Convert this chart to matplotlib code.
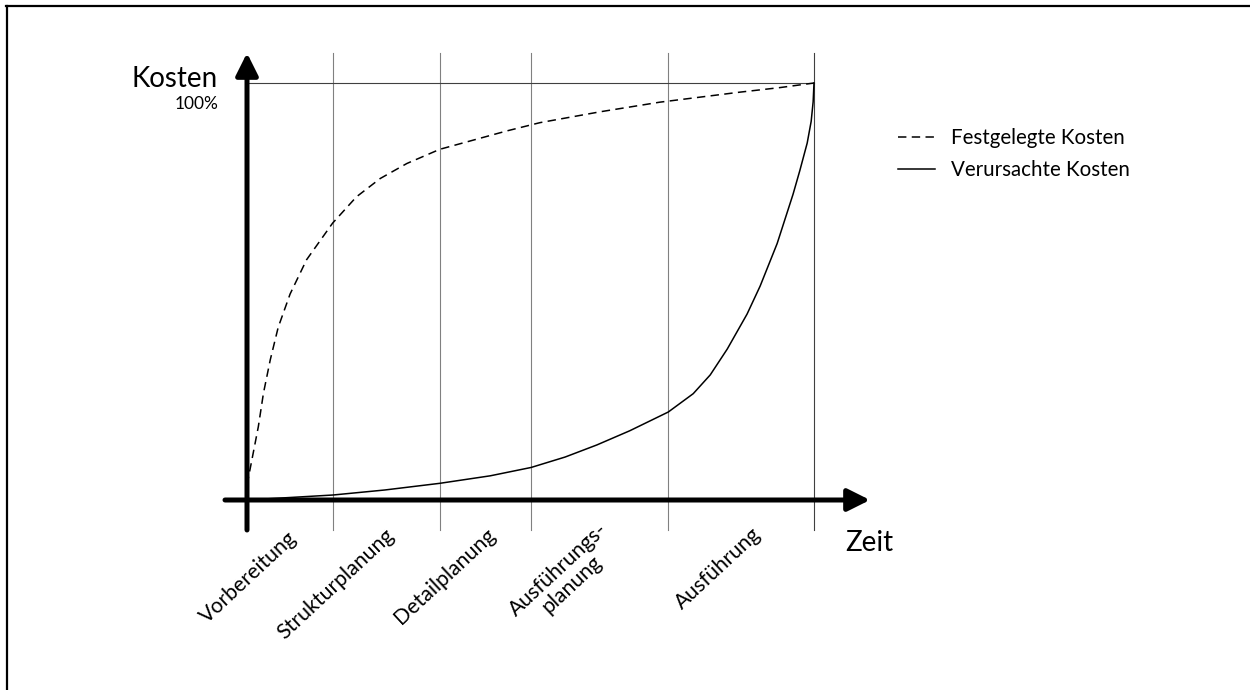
"""Kostenbeeinflussung über die Projektphasen (Festgelegte vs. verursachte Kosten)."""

import matplotlib
matplotlib.use('Agg')
import matplotlib.pyplot as plt
from matplotlib.lines import Line2D

plt.rcParams['font.family'] = ['Lato', 'DejaVu Sans']

# phase boundaries on the time axis (0 = start, 100 = end)
phase_ends = [15.2, 34.0, 50.1, 74.3, 100.0]
phase_labels = ['Vorbereitung', 'Strukturplanung', 'Detailplanung',
                'Ausführungs-\nplanung', 'Ausführung']

# festgelegte Kosten (dashed), % of total
fest_t = [0.0, 2.0, 2.9, 4.1, 5.5, 7.6, 10.5, 15.1, 19.3, 23.5, 28.2, 34.0,
          39.9, 45.8, 51.7, 62.3, 72.8, 86.9, 94.0, 100.0]
fest_k = [3.6, 17.6, 25.6, 33.6, 41.4, 49.4, 57.6, 66.4, 72.7, 77.1, 80.7, 84.1,
          86.3, 88.5, 90.5, 93.1, 95.4, 97.8, 98.9, 100.0]

# verursachte Kosten (solid), % of total
verur_t = [0.0, 7.6, 15.2, 24.3, 34.0, 42.9, 50.1, 56.1, 61.7, 67.5, 74.3,
           78.7, 81.7, 84.7, 88.2, 90.5, 93.5, 96.3, 97.5, 98.8, 99.5, 99.85, 100.0]
verur_k = [0.0, 0.6, 1.2, 2.4, 4.0, 5.8, 7.8, 10.3, 13.2, 16.6, 21.1,
           25.5, 30.0, 36.2, 44.6, 51.3, 61.5, 73.3, 79.0, 85.6, 90.8, 95.5, 100.0]

W, H = 1250, 690
# pixel layout of the drawing
X0, X100 = 247, 814      # t = 0 and t = 100
Y0, Y100 = 500, 83       # k = 0 and k = 100
sx = (X100 - X0) / 100.0
sy = (Y0 - Y100) / 100.0


def t_of(px):
    return (px - X0) / sx


def k_of(py):
    return (Y0 - py) / sy


fig = plt.figure(figsize=(W / 100, H / 100), dpi=100)
ax = fig.add_axes([0, 0, 1, 1])
ax.set_xlim(t_of(0), t_of(W))
ax.set_ylim(k_of(H), k_of(0))
ax.axis('off')

# frame (only top and left edge visible)
fig.add_artist(Line2D([6 / W, 1], [1 - 6 / H, 1 - 6 / H], transform=fig.transFigure,
                      color='black', lw=1.6))
fig.add_artist(Line2D([7 / W, 7 / W], [0, 1 - 6 / H], transform=fig.transFigure,
                      color='black', lw=1.6))

# phase separators
k_bot, k_top = k_of(530), k_of(53)
for i, te in enumerate(phase_ends):
    ax.plot([te, te], [k_bot, k_top], color='#808080' if i < len(phase_ends) - 1 else '#404040',
            lw=0.8, zorder=1)

# 100 % reference line
ax.plot([0, 100], [100, 100], color='#404040', lw=0.8, zorder=1)

# curves
ax.plot(fest_t, fest_k, color='black', lw=1.1, ls=(0, (5.5, 3.5)),
        label='Festgelegte Kosten', zorder=3, solid_joinstyle='round')
ax.plot(verur_t, verur_k, color='black', lw=1.1, label='Verursachte Kosten', zorder=3,
        solid_joinstyle='round')

# axes with arrow heads
arrow = dict(arrowstyle='-|>,head_length=1.0,head_width=0.5', lw=3.6, color='black',
             mutation_scale=13.5, shrinkA=0, shrinkB=0)
ax.annotate('', xy=(t_of(870), 0), xytext=(t_of(225), 0), arrowprops=arrow, zorder=4)
ax.annotate('', xy=(0, k_of(53)), xytext=(0, k_of(530)), arrowprops=arrow, zorder=4)

# axis titles
ax.text(t_of(218), k_of(87), 'Kosten', ha='right', va='baseline', fontsize=20)
ax.text(t_of(218), k_of(109), '100%', ha='right', va='baseline', fontsize=12.5)
ax.text(t_of(845), k_of(551), 'Zeit', ha='left', va='baseline', fontsize=20)

# phase labels
starts = [0.0] + phase_ends[:-1]
offsets = [-0.6, -0.3, 0.0, -0.4, 1.7]
label_k = [-6.6, -6.0, -5.8, -4.6, -5.8]
for s, e, lab, off, lk in zip(starts, phase_ends, phase_labels, offsets, label_k):
    ax.text((s + e) / 2 + off, lk, lab, rotation=43, rotation_mode='anchor',
            ha='right', va='top', multialignment='center', fontsize=15.3,
            linespacing=1.05)

leg = ax.legend(loc='upper left', bbox_to_anchor=(898 / W, 1 - 128 / H),
                bbox_transform=fig.transFigure, frameon=False, fontsize=14.8,
                handlelength=1.8, handletextpad=0.8, labelspacing=0.58,
                borderpad=0, borderaxespad=0)

fig.savefig('out.png', dpi=100)
